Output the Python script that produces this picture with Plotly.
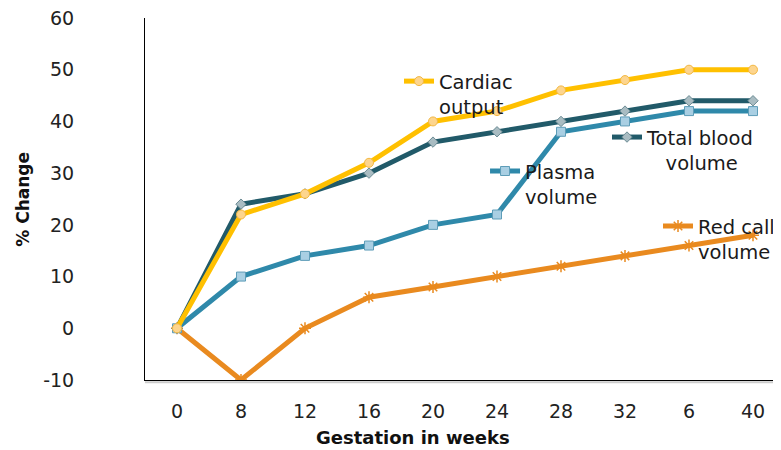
import plotly.graph_objects as go

weeks = ["0", "8", "12", "16", "20", "24", "28", "32", "6", "40"]
cardiac_output = [0, 22, 26, 32, 40, 42, 46, 48, 50, 50]
total_blood_volume = [0, 24, 26, 30, 36, 38, 40, 42, 44, 44]
plasma_volume = [0, 10, 14, 16, 20, 22, 38, 40, 42, 42]
red_cell_volume = [0, -10, 0, 6, 8, 10, 12, 14, 16, 18]
y_tick_values = [-10, 0, 10, 20, 30, 40, 50, 60]
y_tick_labels = ["-10", "0", "10", "20", "30", "40", "50", "60"]

NB = "\u00a0"
series = [
    dict(name="Red call<br>volume", y=red_cell_volume, color="#E98A1F",
         marker=dict(symbol="asterisk-open", size=10, line=dict(color="#F7B060", width=1.5)),
         legend="legend4", lx=0.7966, ly=0.4786),
    dict(name="Total blood<br>" + NB * 3 + "volume", y=total_blood_volume, color="#215A69",
         marker=dict(symbol="diamond", size=8, color="#A9BCC2", line=dict(color="#6D8C95", width=1)),
         legend="legend3", lx=0.7174, ly=0.7241),
    dict(name="Plasma<br>volume", y=plasma_volume, color="#2F89AA",
         marker=dict(symbol="square", size=9, color="#A9CFE3", line=dict(color="#5E9DB8", width=1)),
         legend="legend2", lx=0.5280, ly=0.6303),
    dict(name="Cardiac<br>output", y=cardiac_output, color="#FFC000",
         marker=dict(symbol="circle", size=9, color="#FDD58E", line=dict(color="#F3B843", width=1)),
         legend="legend", lx=0.3944, ly=0.8786),
]

fig = go.Figure()
legend_layouts = {}
for s in series:
    fig.add_trace(go.Scatter(
        x=weeks, y=s["y"], name=s["name"], mode="lines+markers",
        line=dict(color=s["color"], width=5), marker=s["marker"],
        legend=s["legend"], showlegend=True,
    ))
    legend_layouts[s["legend"]] = dict(
        x=s["lx"], y=s["ly"], xanchor="left", yanchor="top",
        bgcolor="rgba(0,0,0,0)", borderwidth=0, valign="top",
        font=dict(family="DejaVu Sans", size=19.5, color="#1a1a1a"),
        itemwidth=30, tracegroupgap=0,
    )

# page body has an 8px margin, so the figure is shifted left/up by 8px
fig.update_layout(
    width=781, height=450,
    margin=dict(l=137, r=0, t=10, b=77.5, autoexpand=False),
    paper_bgcolor="white", plot_bgcolor="white",
    font=dict(family="DejaVu Sans", size=19, color="#222"),
    xaxis=dict(type="category", range=[-0.5, 9.5625], showgrid=False, zeroline=False,
               showline=True, linecolor="black", linewidth=1, ticks="", automargin=False,
               ticklabelstandoff=14, tickfont=dict(size=19, color="#222")),
    yaxis=dict(range=[-10, 60], tickmode="array", tickvals=y_tick_values, ticktext=y_tick_labels,
               showgrid=False, zeroline=False, ticklabeloverflow="allow",
               showline=True, linecolor="black", linewidth=1, ticks="", automargin=False,
               ticklabelstandoff=66, tickfont=dict(size=19, color="#222")),
    annotations=[
        dict(text="<b>% Change</b>", xref="paper", yref="paper", x=-0.1894, y=0.498,
             xanchor="center", yanchor="middle",
             textangle=-90, showarrow=False, font=dict(family="DejaVu Sans", size=17, color="#111")),
        dict(text="<b>Gestation in weeks</b>", xref="paper", yref="paper", x=0.416, y=-0.1586,
             xanchor="center", yanchor="middle",
             showarrow=False, font=dict(family="DejaVu Sans", size=18, color="#111")),
    ],
    shapes=[
        dict(type="line", xref="paper", yref="paper", x0=0, x1=1, y0=-0.006, y1=-0.006,
             line=dict(color="rgba(0,0,0,0.2)", width=2), layer="below"),
    ],
    **legend_layouts,
)

fig.write_html("out.html")
